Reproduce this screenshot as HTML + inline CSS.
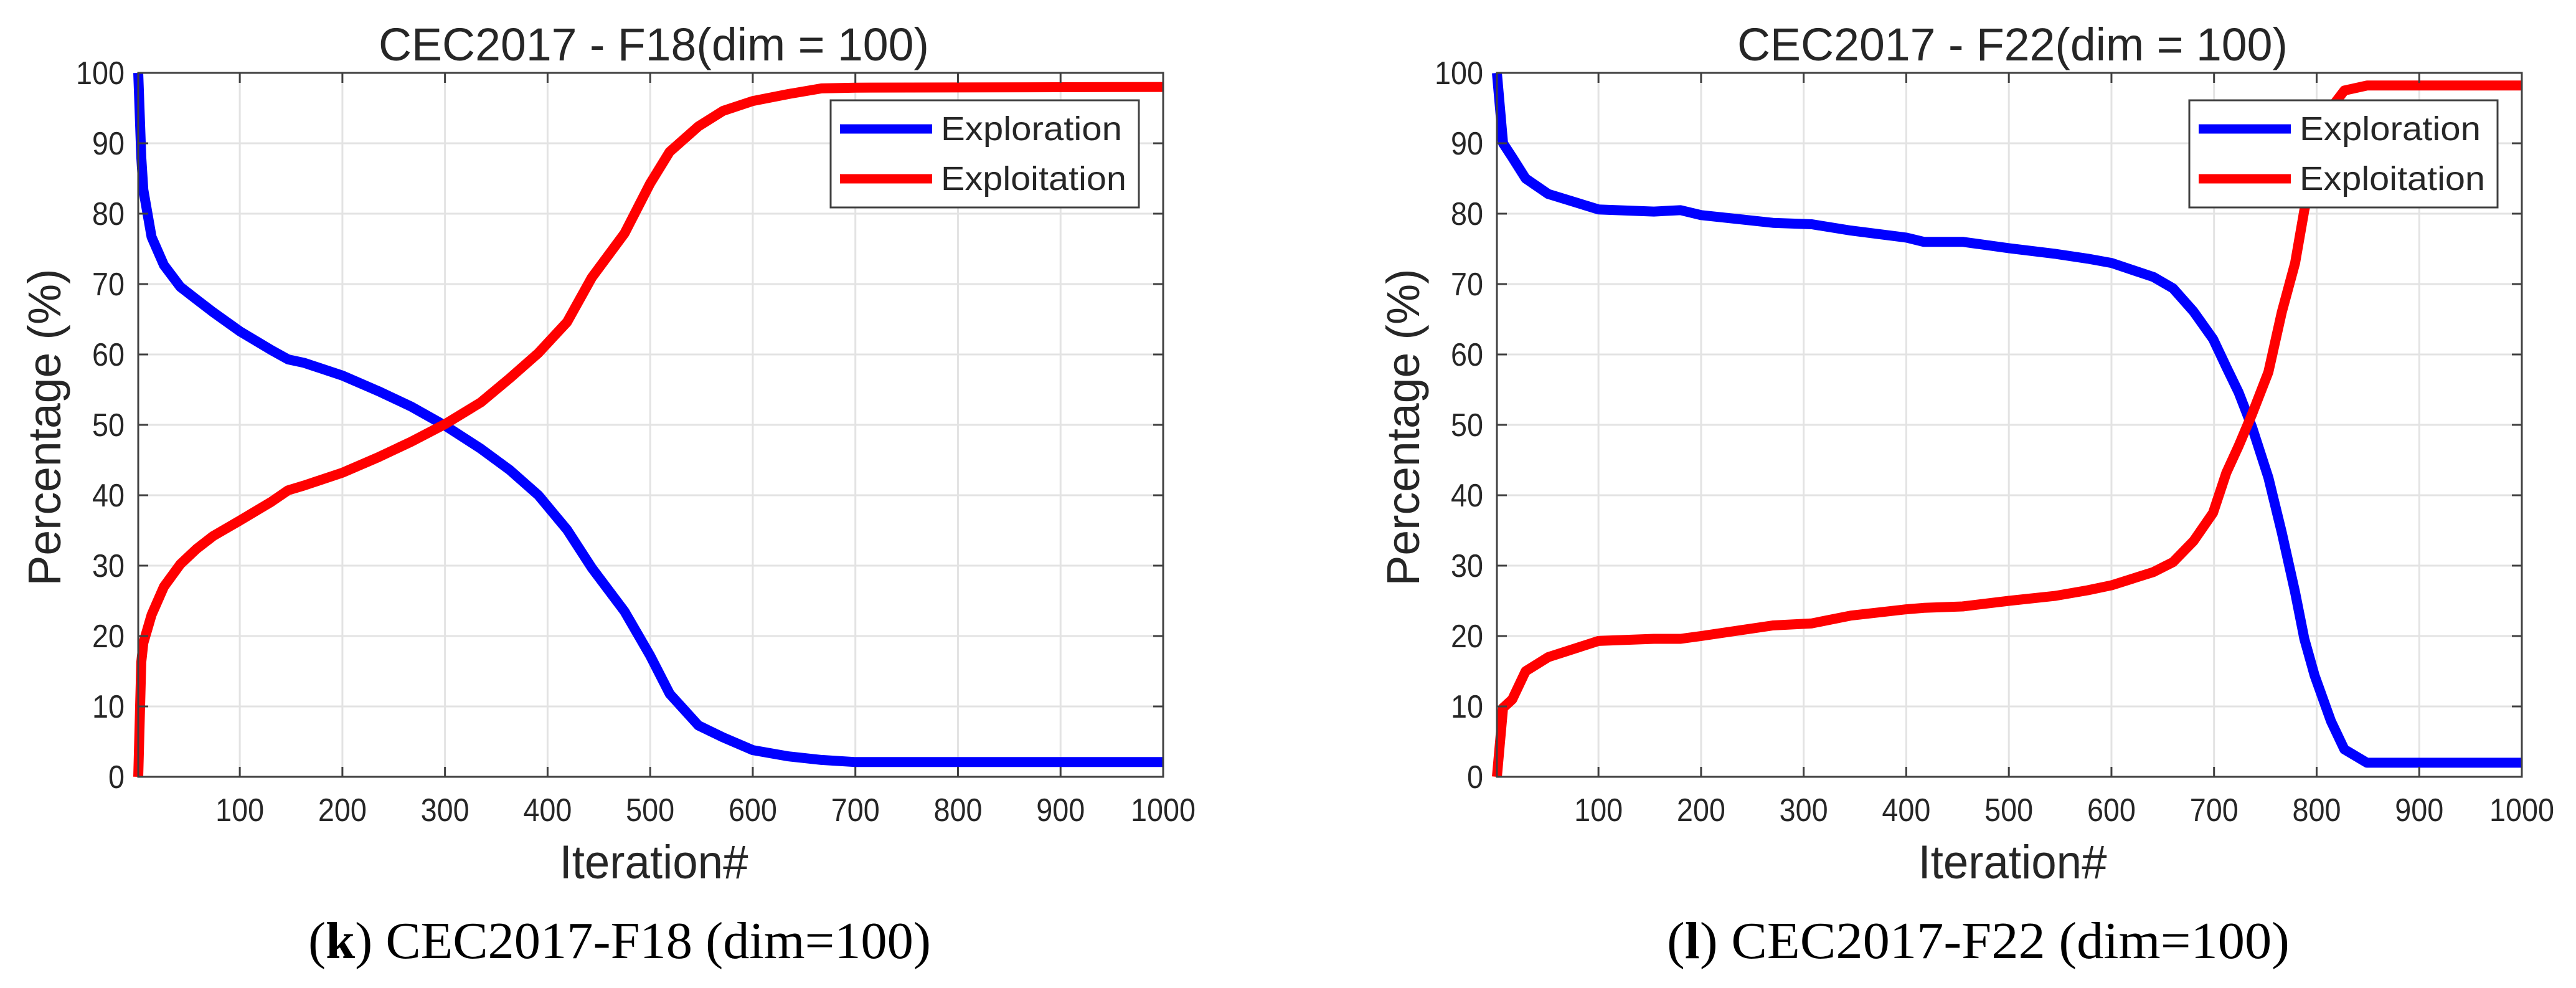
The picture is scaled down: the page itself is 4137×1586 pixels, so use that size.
<!DOCTYPE html>
<html><head><meta charset="utf-8"><style>
html,body{margin:0;padding:0;background:#fff;}
svg{display:block;}
text{font-family:"Liberation Sans",sans-serif;fill:#262626;}
.cap{font-family:"Liberation Serif",serif;fill:#000;}
</style></head><body>
<svg id="fig" width="4137" height="1586" viewBox="0 0 4137 1586" xmlns="http://www.w3.org/2000/svg"></svg>
<script>
// ---- data ----
const xTicks = [100,200,300,400,500,600,700,800,900,1000];
const yTicks = [0,10,20,30,40,50,60,70,80,90,100];
const f18Iter = [1,4,6,14,26,42,58,74,100,131,147,163,200,235,267,300,335,363,391,419,443,475,500,519,547,571,600,635,667,700,1000];
const f18Explore = [100,88,83.4,76.7,72.7,69.6,67.8,66,63.3,60.6,59.3,58.8,57,54.8,52.6,49.9,46.6,43.6,40,35.1,29.7,23.5,17.2,11.8,7.3,5.6,3.8,2.9,2.4,2.1,2.1];
const f18Exploit = [0,16.3,19,23,27,30.2,32.4,34.2,36.4,39.1,40.7,41.4,43.2,45.4,47.6,50.1,53.2,56.6,60.2,64.6,70.9,77.2,84.3,88.8,92.4,94.6,96,97,97.8,97.9,98];
const f22Iter = [1,7,16,29,51,100,154,180,200,270,308,346,400,417,455,500,545,577,600,641,660,680,699,712,724,737,753,766,779,788,798,814,827,849,1000];
const f22Explore = [100,90,88,85,82.8,80.6,80.3,80.5,79.8,78.7,78.5,77.6,76.6,76,76,75.1,74.3,73.6,73,71,69.4,66.1,62.2,58.2,54.6,49.7,42.5,34.7,26.2,19.6,14.4,7.9,3.9,2,2];
const f22Exploit = [0,9.8,11,15,17,19.3,19.6,19.6,20,21.5,21.8,22.9,23.8,24,24.2,25,25.7,26.5,27.2,29.1,30.5,33.5,37.5,43.2,47,51.5,57.5,66,73,80.5,87,95,97.5,98.2,98.2];

const NS = "http://www.w3.org/2000/svg";
const svg = document.getElementById('fig');
function mk(tag, attrs, parent){
  const e = document.createElementNS(NS, tag);
  for (const k in attrs) e.setAttribute(k, attrs[k]);
  (parent||svg).appendChild(e);
  return e;
}

function drawPanel(off, id, title, caption, bold, iters, expl, expt){
  const L = 222+off, R = 1868+off, T = 117, B = 1247;
  const xs = v => L + (v-1)*(R-L)/999;
  const ys = v => B - v*(B-T)/100;
  const g = mk('g', {});
  
  
  xTicks.forEach(t => {
    const l = mk('line', {x1:xs(t), x2:xs(t), y1:T, y2:B, stroke:'#e3e3e3', 'stroke-width':3}, g);
    
    
  });
  yTicks.forEach(t => {
    const l = mk('line', {x1:L, x2:R, y1:ys(t), y2:ys(t), stroke:'#e3e3e3', 'stroke-width':3}, g);
    
    
  });
  const mkPath = (vals, color, name) => {
    let d = '';
    iters.forEach((it,i) => { d += (i?'L':'M') + xs(it).toFixed(1) + ' ' + ys(vals[i]).toFixed(1); });
    const p = mk('path', {d:d, fill:'none', stroke:color, 'stroke-width':16, 'stroke-linejoin':'round'}, g);
    
    
  };
  mkPath(expl, '#0000ff', 'exploration-line');
  mkPath(expt, '#ff0000', 'exploitation-line');
  const box = mk('rect', {x:L, y:T, width:R-L, height:B-T, fill:'none', stroke:'#404040', 'stroke-width':3}, g);
  
  
  xTicks.forEach(t => {
    mk('line', {x1:xs(t), x2:xs(t), y1:B, y2:B-16, stroke:'#404040', 'stroke-width':3}, g);
    mk('line', {x1:xs(t), x2:xs(t), y1:T, y2:T+16, stroke:'#404040', 'stroke-width':3}, g);
    const s = String(t);
    const tx = mk('text', {x:xs(t), y:1318, 'font-size':52, 'text-anchor':'middle', textLength:26*s.length, lengthAdjust:'spacingAndGlyphs'}, g);
    
    
    tx.textContent = s;
  });
  yTicks.forEach(t => {
    mk('line', {x1:L, x2:L+16, y1:ys(t), y2:ys(t), stroke:'#404040', 'stroke-width':3}, g);
    mk('line', {x1:R, x2:R-16, y1:ys(t), y2:ys(t), stroke:'#404040', 'stroke-width':3}, g);
    const s = String(t);
    const tx = mk('text', {x:L-22, y:ys(t)+18, 'font-size':52, 'text-anchor':'end', textLength:26*s.length, lengthAdjust:'spacingAndGlyphs'}, g);
    
    
    tx.textContent = s;
  });
  const cx = (L+R)/2 + 5;
  const ti = mk('text', {x:cx, y:97, 'font-size':74, 'text-anchor':'middle', fill:'#000', textLength:884, lengthAdjust:'spacingAndGlyphs'}, g);
  
  
  ti.textContent = title;
  const xl = mk('text', {x:cx, y:1410, 'font-size':76, 'text-anchor':'middle', textLength:303, lengthAdjust:'spacingAndGlyphs'}, g);
  
  
  xl.textContent = 'Iteration#';
  const yx = 97+off, yy = 686;
  const yl = mk('text', {x:yx, y:yy, 'font-size':74, 'text-anchor':'middle', transform:'rotate(-90 '+yx+' '+yy+')', textLength:509, lengthAdjust:'spacingAndGlyphs'}, g);
  
  
  yl.textContent = 'Percentage (%)';
  const lgx = R - 534, lgw = 495;
  const lg = mk('g', {}, g);
  
  
  mk('rect', {x:lgx, y:161, width:lgw, height:172, fill:'#fff', stroke:'#404040', 'stroke-width':3}, lg);
  const ents = [['Exploration','#0000ff',207,291],['Exploitation','#ff0000',287,298]];
  ents.forEach(e => {
    const eg = mk('g', {}, lg);
    
    
    mk('line', {x1:lgx+15, x2:lgx+163, y1:e[2], y2:e[2], stroke:e[1], 'stroke-width':15}, eg);
    const t = mk('text', {x:lgx+177, y:e[2]+18, 'font-size':54, fill:'#000', textLength:e[3], lengthAdjust:'spacingAndGlyphs'}, eg);
    t.textContent = e[0];
  });
  const cap = mk('text', {class:'cap', x:cx-55, y:1538, 'font-size':84, 'text-anchor':'middle', textLength:1000, lengthAdjust:'spacingAndGlyphs'}, g);
  
  
  const a = document.createElementNS(NS,'tspan'); a.textContent='('; cap.appendChild(a);
  const b = document.createElementNS(NS,'tspan'); b.setAttribute('font-weight','bold'); b.textContent=bold; cap.appendChild(b);
  const c = document.createElementNS(NS,'tspan'); c.textContent=') '+caption; cap.appendChild(c);
}

drawPanel(0, 'f18', 'CEC2017 - F18(dim = 100)', 'CEC2017-F18 (dim=100)', 'k', f18Iter, f18Explore, f18Exploit);
drawPanel(2182, 'f22', 'CEC2017 - F22(dim = 100)', 'CEC2017-F22 (dim=100)', 'l', f22Iter, f22Explore, f22Exploit);
</script>
</body></html>
